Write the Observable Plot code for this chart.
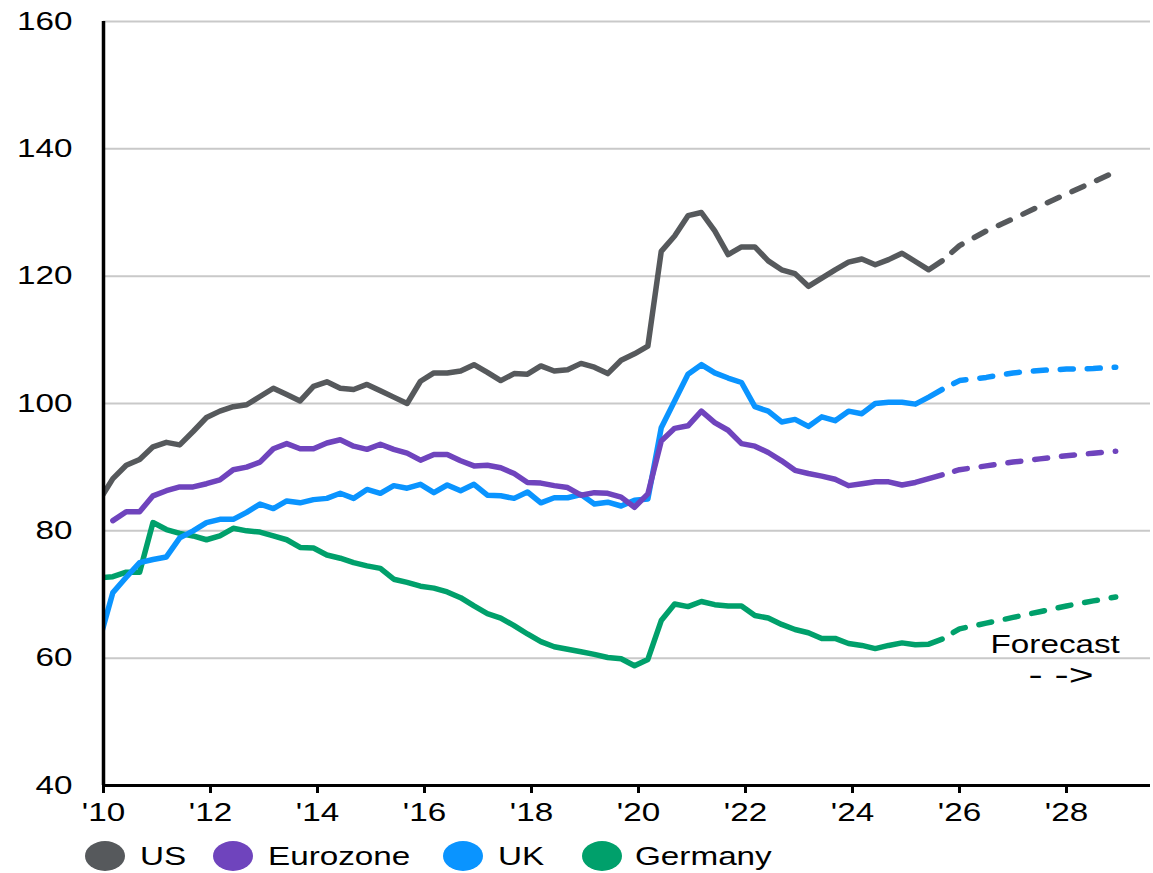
<!DOCTYPE html>
<html><head><meta charset="utf-8">
<script src="https://cdn.jsdelivr.net/npm/d3@7"></script>
<script src="https://cdn.jsdelivr.net/npm/@observablehq/plot@0.6"></script>
<style>
body{margin:0;background:#fff;font-family:"Liberation Sans",Arial,sans-serif;}
#wrap{position:relative;width:1153px;}
#legend{position:relative;height:43px;}
.sw{position:absolute;width:40px;height:30px;border-radius:50%;top:11px;}
.lb{position:absolute;font-size:25px;line-height:30px;top:11px;transform:scaleX(1.33);transform-origin:left center;color:#000;white-space:nowrap;}
</style></head><body><div id="wrap"><div id="chart"></div><div id="legend"></div></div>
<script>
// ---- data (quarterly, first value = Q4 2009) ----
const firstQuarter = 2009.925;
const seriesNames = ["US", "Eurozone", "UK", "Germany"];
const seriesColors = ["#56595c", "#6f44bd", "#0a94ff", "#00a06b"];

const usValues = [84.8, 88.2, 90.3, 91.2, 93.2, 93.9, 93.5, 95.6, 97.8, 98.8, 99.5, 99.8, 101.1, 102.4, 101.4, 100.4,
  102.7, 103.4, 102.4, 102.2, 103.0, 102.0, 101.0, 100.0, 103.5, 104.8, 104.8, 105.1, 106.1, 104.9, 103.6, 104.7,
  104.6, 105.9, 105.1, 105.3, 106.3, 105.7, 104.7, 106.8, 107.8, 109.0, 123.9, 126.3, 129.5, 130.0, 127.1, 123.4,
  124.6, 124.6, 122.4, 121.0, 120.4, 118.4, 119.7, 121.0, 122.2, 122.7, 121.8, 122.6, 123.6, 122.3, 121.0, 122.4];
const eurozoneValues = [null, 81.6, 83.0, 83.0, 85.5, 86.3, 86.9, 86.9, 87.4, 88.0, 89.6, 90.0, 90.8, 92.9, 93.7, 92.9,
  92.9, 93.8, 94.3, 93.3, 92.8, 93.6, 92.8, 92.2, 91.1, 92.0, 92.0, 91.0, 90.2, 90.3, 89.9, 89.0,
  87.6, 87.5, 87.1, 86.8, 85.6, 86.0, 85.9, 85.3, 83.7, 85.8, 94.1, 96.1, 96.5, 98.8, 97.0, 95.8,
  93.7, 93.3, 92.3, 91.0, 89.5, 89.0, 88.6, 88.1, 87.1, 87.4, 87.7, 87.7, 87.2, 87.6, 88.2, 88.8];
const ukValues = [62.8, 70.3, 72.7, 75.0, 75.5, 75.9, 78.9, 80.0, 81.3, 81.8, 81.8, 82.9, 84.2, 83.5, 84.7, 84.4,
  84.9, 85.1, 85.9, 85.1, 86.5, 85.9, 87.1, 86.7, 87.3, 86.0, 87.2, 86.3, 87.3, 85.6, 85.5, 85.1,
  86.1, 84.4, 85.2, 85.2, 85.7, 84.2, 84.5, 83.9, 84.8, 85.0, 96.2, 100.4, 104.6, 106.1, 104.8, 104.0,
  103.3, 99.5, 98.8, 97.1, 97.5, 96.4, 97.9, 97.3, 98.8, 98.4, 100.0, 100.2, 100.2, 99.9, 101.0, 102.2];
const germanyValues = [72.6, 72.8, 73.5, 73.5, 81.3, 80.2, 79.6, 79.2, 78.6, 79.2, 80.4, 80.0, 79.8, 79.2, 78.6, 77.4,
  77.3, 76.2, 75.7, 75.0, 74.5, 74.1, 72.4, 71.9, 71.3, 71.0, 70.4, 69.5, 68.2, 67.0, 66.3, 65.1,
  63.8, 62.6, 61.8, 61.4, 61.0, 60.6, 60.1, 59.9, 58.8, 59.8, 65.9, 68.5, 68.1, 68.9, 68.4, 68.2,
  68.2, 66.7, 66.3, 65.3, 64.5, 64.0, 63.1, 63.1, 62.3, 62.0, 61.5, 62.0, 62.4, 62.1, 62.2, 63.0];

// forecast (dashed), starting at the last actual quarter
const forecastYears = [2025.675, 2026.0, 2026.5, 2027.0, 2027.5, 2028.0, 2028.5, 2028.92];
const usForecast = [122.4, 124.8, 127.1, 129.0, 131.0, 132.9, 134.8, 136.4];
const eurozoneForecast = [88.8, 89.6, 90.2, 90.8, 91.3, 91.8, 92.2, 92.5];
const ukForecast = [102.2, 103.6, 104.1, 104.8, 105.2, 105.4, 105.5, 105.7];
const germanyForecast = [63.0, 64.6, 65.5, 66.4, 67.3, 68.2, 69.0, 69.6];

const yTicks = [40, 60, 80, 100, 120, 140, 160];
const gridTicks = [60, 80, 100, 120, 140, 160];
const xTicks = [2010, 2012, 2014, 2016, 2018, 2020, 2022, 2024, 2026, 2028];
const forecastLabel = "Forecast";
const forecastArrow = "- ->";
const annotations = [{t: 2026.58, v: 62.1, label: forecastLabel, size: 25}, {t: 2027.29, v: 57.3, label: forecastArrow, size: 29}];

// ---- build tables ----
const histSets = [usValues, eurozoneValues, ukValues, germanyValues];
const fcSets = [usForecast, eurozoneForecast, ukForecast, germanyForecast];
const drawOrder = [3, 2, 1, 0];
const hist = drawOrder.flatMap(i => histSets[i].map((v, k) => ({series: seriesNames[i], t: firstQuarter + 0.25 * k, v})));
const fc = drawOrder.flatMap(i => fcSets[i].map((v, k) => ({series: seriesNames[i], t: forecastYears[k], v})));

const plot = Plot.plot({
  width: 1153, height: 830,
  marginTop: 21, marginBottom: 45, marginLeft: 103, marginRight: 3,
  style: {fontFamily: "'Liberation Sans', Arial, sans-serif", fontSize: "25px", color: "#000", background: "#fff"},
  x: {domain: [2010, 2029.57]},
  y: {domain: [40, 160]},
  color: {domain: seriesNames, range: seriesColors},
  marks: [
    Plot.gridY(gridTicks, {stroke: "#c9c9c9", strokeOpacity: 1, strokeWidth: 2}),
    Plot.axisY(yTicks, {tickSize: 0, tickPadding: 31, label: null, fontSize: 25}),
    Plot.axisX(xTicks, {tickSize: 8, tickPadding: 10, strokeWidth: 3, label: null, fontSize: 25,
      tickFormat: d => "'" + String(d).slice(2)}),
    Plot.line(hist, {x: "t", y: "v", z: "series", stroke: "series", strokeWidth: 5.5,
      strokeLinejoin: "round", strokeLinecap: "round", clip: true}),
    Plot.line(fc, {x: "t", y: "v", z: "series", stroke: "series", strokeWidth: 5.5,
      strokeDasharray: "13,14", strokeDashoffset: 14, strokeLinecap: "round", strokeLinejoin: "round"}),
    Plot.ruleY([40], {stroke: "#000", strokeWidth: 3}),
    Plot.ruleX([2010], {stroke: "#000", strokeWidth: 3.5}),
    Plot.text(annotations, {x: "t", y: "v", text: "label", fontSize: "size", textAnchor: "start", fill: "#000"})
  ]
});

// stretch text horizontally like the reference
plot.querySelectorAll("text").forEach(el => {
  if (el.querySelector("tspan")) return;
  const s = el.textContent === forecastArrow ? 1.47 : 1.33;
  let tr = el.getAttribute("transform") || "";
  const x = el.getAttribute("x");
  if (x !== null && !isNaN(+x)) { tr += ` translate(${+x},0)`; el.removeAttribute("x"); }
  el.setAttribute("transform", (tr + ` scale(${s},1)`).trim());
});
document.getElementById("chart").appendChild(plot);

// legend
const legendPos = [[85, 140], [213, 268], [443, 498], [582, 635]];
const legend = document.getElementById("legend");
seriesNames.forEach((name, i) => {
  const sw = document.createElement("div");
  sw.className = "sw"; sw.style.left = legendPos[i][0] + "px"; sw.style.background = seriesColors[i];
  const lb = document.createElement("div");
  lb.className = "lb"; lb.style.left = legendPos[i][1] + "px"; lb.textContent = name;
  legend.appendChild(sw); legend.appendChild(lb);
});
</script></body></html>
